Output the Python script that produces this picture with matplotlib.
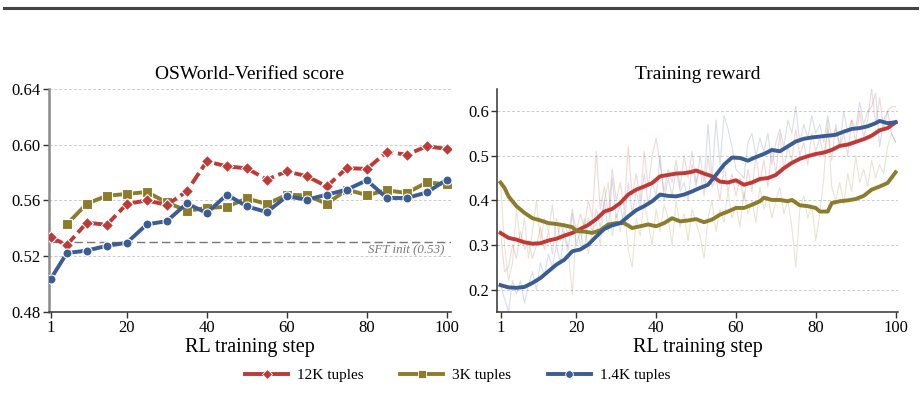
import numpy as np
import matplotlib
matplotlib.use("Agg")
import matplotlib.pyplot as plt
from matplotlib.lines import Line2D

plt.rcParams['font.family'] = ['Liberation Serif', 'DejaVu Serif']

# colours
RED = '#bf3a36'
OLIVE = '#8c7c2c'
BLUE = '#3c5c94'

# left panel: OSWorld-Verified score
steps = [1, 5, 10, 15, 20, 25, 30, 35, 40, 45, 50, 55, 60, 65, 70, 75, 80, 85, 90, 95, 100]
score_12k = [0.5334, 0.528, 0.544, 0.5425, 0.5574, 0.560, 0.5567, 0.5665, 0.588, 0.5844, 0.5830,
             0.5749, 0.5808, 0.5773, 0.570, 0.5832, 0.5825, 0.5947, 0.5928, 0.5988, 0.5969]
steps_3k = steps[1:]
score_3k = [0.5428, 0.5576, 0.5633, 0.5646, 0.566, 0.5585, 0.5526, 0.5545, 0.5554, 0.5614,
            0.5574, 0.564, 0.5636, 0.5576, 0.5677, 0.5638, 0.5672, 0.5653, 0.5729, 0.5715]
score_1k = [0.5037, 0.5222, 0.524, 0.5274, 0.5296, 0.5428, 0.5451, 0.5578, 0.5509, 0.5641, 0.5557,
            0.5516, 0.5629, 0.5605, 0.5641, 0.5677, 0.5744, 0.5617, 0.5617, 0.5657, 0.5749]
sft_init = 0.53

# right panel: training reward, raw per step
raw_steps = list(range(1, 101))
raw_12k = [0.33, 0.24, 0.25, 0.30, 0.27, 0.33, 0.29, 0.31, 0.27, 0.30,
           0.34, 0.29, 0.33, 0.28, 0.36, 0.31, 0.35, 0.32, 0.38, 0.33,
           0.37, 0.34, 0.40, 0.36, 0.51, 0.38, 0.43, 0.37, 0.47, 0.40,
           0.44, 0.38, 0.52, 0.41, 0.46, 0.40, 0.51, 0.43, 0.50, 0.54,
           0.48, 0.42, 0.47, 0.44, 0.49, 0.43, 0.50, 0.45, 0.51, 0.44,
           0.47, 0.41, 0.50, 0.43, 0.45, 0.40, 0.48, 0.42, 0.46, 0.41,
           0.45, 0.40, 0.47, 0.42, 0.50, 0.44, 0.49, 0.43, 0.52, 0.46,
           0.55, 0.47, 0.52, 0.49, 0.56, 0.50, 0.53, 0.48, 0.55, 0.51,
           0.54, 0.50, 0.56, 0.49, 0.57, 0.52, 0.55, 0.50, 0.58, 0.53,
           0.60, 0.54, 0.58, 0.65, 0.57, 0.63, 0.56, 0.60, 0.61, 0.61]
raw_3k = [0.44, 0.30, 0.22, 0.26, 0.38, 0.30, 0.36, 0.27, 0.33, 0.40,
          0.31, 0.36, 0.33, 0.39, 0.30, 0.35, 0.32, 0.28, 0.19, 0.34,
          0.30, 0.36, 0.28, 0.33, 0.35, 0.30, 0.40, 0.44, 0.32, 0.37,
          0.33, 0.38, 0.29, 0.25, 0.36, 0.32, 0.40, 0.35, 0.30, 0.38,
          0.33, 0.39, 0.36, 0.30, 0.40, 0.34, 0.37, 0.31, 0.38, 0.35,
          0.32, 0.27, 0.36, 0.40, 0.33, 0.38, 0.35, 0.42, 0.36, 0.39,
          0.34, 0.42, 0.37, 0.40, 0.35, 0.43, 0.38, 0.41, 0.36, 0.40,
          0.43, 0.37, 0.40, 0.34, 0.25, 0.38, 0.41, 0.36, 0.39, 0.31,
          0.37, 0.45, 0.58, 0.43, 0.40, 0.44, 0.39, 0.46, 0.42, 0.50,
          0.44, 0.47, 0.43, 0.49, 0.45, 0.48, 0.46, 0.52, 0.55, 0.53]
raw_1k = [0.21, 0.18, 0.15, 0.22, 0.19, 0.22, 0.17, 0.21, 0.24, 0.20,
          0.26, 0.23, 0.28, 0.25, 0.30, 0.26, 0.33, 0.29, 0.37, 0.30,
          0.33, 0.29, 0.36, 0.33, 0.38, 0.34, 0.40, 0.33, 0.45, 0.36,
          0.39, 0.34, 0.44, 0.37, 0.42, 0.38, 0.46, 0.39, 0.44, 0.41,
          0.50, 0.40, 0.45, 0.41, 0.47, 0.42, 0.44, 0.40, 0.48, 0.43,
          0.50, 0.44, 0.57, 0.45, 0.58, 0.48, 0.59, 0.56, 0.52, 0.47,
          0.46, 0.45, 0.53, 0.55, 0.50, 0.54, 0.51, 0.55, 0.48, 0.53,
          0.56, 0.52, 0.58, 0.55, 0.61, 0.53, 0.57, 0.54, 0.59, 0.55,
          0.57, 0.53, 0.59, 0.54, 0.56, 0.52, 0.60, 0.55, 0.58, 0.56,
          0.62, 0.57, 0.60, 0.61, 0.64, 0.52, 0.58, 0.60, 0.55, 0.53]

# smoothed curves
sm_steps_12k = [1, 3, 5, 7, 9, 11, 13, 15, 17, 19, 21, 23, 25, 27, 29, 31, 33, 35, 37, 39, 41, 43, 45, 47,
                49, 50, 52, 54, 56, 58, 60, 62, 64, 66, 68, 70, 72, 74, 76, 78, 80, 82, 84, 86, 88, 90,
                92, 94, 96, 98, 100]
sm_12k = [0.327, 0.316, 0.312, 0.306, 0.303, 0.304, 0.310, 0.314, 0.321, 0.327, 0.336, 0.345, 0.358,
          0.375, 0.381, 0.394, 0.413, 0.424, 0.431, 0.439, 0.454, 0.457, 0.460, 0.461, 0.464, 0.467,
          0.460, 0.454, 0.442, 0.440, 0.445, 0.435, 0.440, 0.448, 0.450, 0.457, 0.472, 0.484, 0.493,
          0.499, 0.504, 0.507, 0.513, 0.522, 0.525, 0.531, 0.537, 0.545, 0.557, 0.562, 0.575]
sm_steps_3k = [1, 2, 3, 5, 7, 9, 11, 13, 15, 17, 19, 20, 22, 24, 26, 28, 30, 32, 34, 36, 38, 40, 42, 44,
               46, 48, 50, 52, 54, 56, 58, 60, 62, 64, 66, 67, 69, 71, 73, 74, 76, 78, 80, 81, 83, 84,
               86, 88, 90, 92, 94, 96, 98, 100]
sm_3k = [0.440, 0.428, 0.409, 0.387, 0.372, 0.360, 0.355, 0.349, 0.347, 0.344, 0.340, 0.331, 0.330,
         0.327, 0.333, 0.346, 0.349, 0.349, 0.338, 0.342, 0.346, 0.342, 0.349, 0.360, 0.353, 0.355,
         0.358, 0.351, 0.357, 0.368, 0.375, 0.383, 0.383, 0.390, 0.398, 0.406, 0.401, 0.401, 0.398,
         0.401, 0.389, 0.387, 0.383, 0.375, 0.375, 0.394, 0.398, 0.400, 0.403, 0.410, 0.424, 0.431,
         0.439, 0.463]
sm_steps_1k = [1, 3, 5, 7, 9, 11, 13, 15, 17, 19, 21, 23, 25, 27, 29, 31, 33, 35, 37, 39, 41, 43, 45, 47,
               49, 51, 53, 55, 57, 59, 61, 63, 65, 67, 69, 71, 73, 75, 77, 79, 81, 83, 85, 87, 89, 91,
               93, 95, 96, 98, 100]
sm_1k = [0.210, 0.205, 0.204, 0.206, 0.215, 0.226, 0.241, 0.256, 0.267, 0.286, 0.290, 0.301, 0.319,
         0.336, 0.344, 0.349, 0.364, 0.378, 0.387, 0.398, 0.413, 0.410, 0.409, 0.413, 0.420, 0.428,
         0.435, 0.457, 0.480, 0.496, 0.495, 0.489, 0.497, 0.504, 0.513, 0.510, 0.521, 0.532, 0.538,
         0.541, 0.543, 0.545, 0.547, 0.554, 0.560, 0.562, 0.566, 0.573, 0.578, 0.573, 0.575]

labels = ['12K tuples', '3K tuples', '1.4K tuples']
xticks = [1, 20, 40, 60, 80, 100]

fig = plt.figure(figsize=(9.21, 4.17), dpi=100)
ax1 = fig.add_axes([0.053, 0.252, 0.4365, 0.535])
ax2 = fig.add_axes([0.540, 0.252, 0.435, 0.535])

# top rule of the page
fig.add_artist(Line2D([0.004, 0.996], [0.982, 0.982], color='#444444', lw=2.2))

# ---- left
ax1.axhline(sft_init, color='#777777', lw=1.0, ls=(0, (6, 3)), zorder=1)
ax1.text(99.5, sft_init - 0.0015, 'SFT init (0.53)', ha='right', va='top',
         style='italic', color='#777777', fontsize=9.3)
ax1.plot(steps, score_12k, color=RED, lw=2.8, ls=(0, (3.2, 1.2)), marker='D', ms=6.5,
         mec='white', mew=0.8, zorder=3)
ax1.plot(steps_3k, score_3k, color=OLIVE, lw=2.8, marker='s', ms=6.5,
         mec='white', mew=0.8, zorder=2)
ax1.plot(steps, score_1k, color=BLUE, lw=2.8, marker='o', ms=6.5,
         mec='white', mew=0.8, zorder=4)
ax1.set_xlim(0.5, 101)
ax1.set_ylim(0.48, 0.64)
ax1.set_yticks([0.48, 0.52, 0.56, 0.60, 0.64])
ax1.set_title('OSWorld-Verified score', fontsize=14, pad=7)

# ---- right
ax2.plot(raw_steps, raw_12k, color=RED, lw=0.8, alpha=0.2)
ax2.plot(raw_steps, raw_3k, color=OLIVE, lw=0.8, alpha=0.2)
ax2.plot(raw_steps, raw_1k, color=BLUE, lw=0.8, alpha=0.2)
ax2.plot(sm_steps_12k, sm_12k, color=RED, lw=2.8)
ax2.plot(sm_steps_3k, sm_3k, color=OLIVE, lw=2.8)
ax2.plot(sm_steps_1k, sm_1k, color=BLUE, lw=2.8)
ax2.set_xlim(0.2, 100.6)
ax2.set_ylim(0.15, 0.65)
ax2.set_yticks([0.2, 0.3, 0.4, 0.5, 0.6])
ax2.set_yticklabels(['0.2', '0.3', '0.4', '0.5', '0.6'])
ax2.set_title('Training reward', fontsize=14, pad=7)

for ax in (ax1, ax2):
    ax.set_xticks(xticks)
    ax.set_xlabel('RL training step', fontsize=14.5, labelpad=1)
    ax.grid(axis='y', color='#cccccc', ls=(0, (3, 2)), lw=0.7)
    ax.set_axisbelow(True)
    ax.spines['top'].set_visible(False)
    ax.spines['right'].set_visible(False)
    ax.spines['bottom'].set_color('#333333')
    ax.spines['bottom'].set_linewidth(1.1)
    ax.tick_params(labelsize=12, length=4, width=1, color='#333333', pad=2)
ax1.spines['left'].set_color('#8a8a8a')
ax1.spines['left'].set_linewidth(1.8)
ax2.spines['left'].set_color('#333333')
ax2.spines['left'].set_linewidth(1.1)

# legend with solid handles
handles = [Line2D([], [], color=RED, lw=2.8, marker='D', ms=5.5, mec='white', mew=0.6),
           Line2D([], [], color=OLIVE, lw=2.8, marker='s', ms=5.5, mec='white', mew=0.6),
           Line2D([], [], color=BLUE, lw=2.8, marker='o', ms=5.5, mec='white', mew=0.6)]
fig.legend(handles, labels, loc='center', bbox_to_anchor=(0.497, 0.1), ncol=3,
           frameon=False, fontsize=11, handlelength=2.8, columnspacing=2.4, handletextpad=0.6)

fig.savefig('out.png', dpi=100)
